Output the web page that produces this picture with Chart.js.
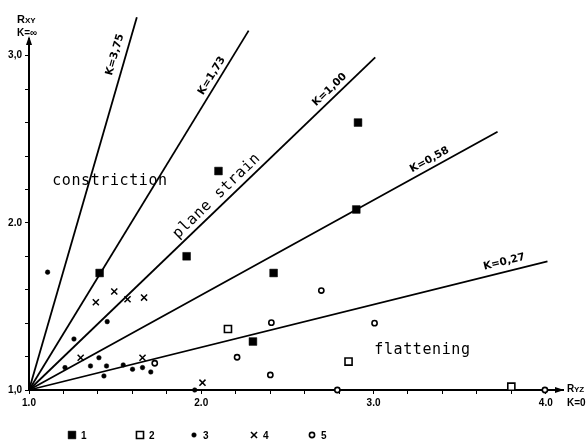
<!DOCTYPE html>
<html><head><meta charset="utf-8">
<script src="https://cdn.jsdelivr.net/npm/chart.js@4/dist/chart.umd.min.js"></script>
<style>html,body{margin:0;padding:0;background:#fff}#wrap{width:588px;height:443px}</style>
</head><body><div id="wrap"><canvas id="c" width="588" height="443"></canvas></div>
<script>
// ---- data ----
const seriesNames = ['1', '2', '3', '4', '5'];
const s1X = [1.41, 1.915, 2.10, 2.91, 2.90, 2.42, 2.30];
const s1Y = [1.70, 1.80, 2.31, 2.60, 2.08, 1.70, 1.29];
const s2X = [2.155, 2.855, 3.80];
const s2Y = [1.365, 1.17, 1.02];
const s3X = [1.108, 1.261, 1.454, 1.209, 1.406, 1.357, 1.45, 1.435, 1.547, 1.601, 1.659, 1.707, 1.962];
const s3Y = [1.705, 1.305, 1.409, 1.134, 1.193, 1.144, 1.144, 1.084, 1.15, 1.124, 1.134, 1.108, 1.0];
const s4X = [1.388, 1.495, 1.572, 1.668, 1.30, 1.659, 2.007];
const s4Y = [1.525, 1.589, 1.543, 1.553, 1.193, 1.193, 1.044];
const s5X = [1.730, 2.208, 2.407, 2.401, 2.697, 3.006, 2.79, 3.995];
const s5Y = [1.16, 1.196, 1.403, 1.09, 1.595, 1.40, 1.0, 1.0];

const kLabels = ['K=3,75', 'K=1,73', 'K=1,00', 'K=0,58', 'K=0,27'];
const kStartX = [1, 1, 1, 1, 1];
const kStartY = [1, 1, 1, 1, 1];
const kEndX = [1.626, 2.275, 3.01, 3.72, 4.01];
const kEndY = [3.23, 3.15, 2.99, 2.545, 1.77];
const kLabelX = [1.499, 2.061, 2.745, 3.325, 3.759];
const kLabelY = [3.006, 2.880, 2.796, 2.377, 1.766];

const fieldNames = ['constriction', 'plane strain', 'flattening'];
const fieldX = [1.47, 2.09, 3.284];
const fieldY = [2.25, 2.16, 1.24];

const xTickLabels = {1: '1.0', 2: '2.0', 3: '3.0', 4: '4.0'};
const yTickLabels = {1: '1,0', 2: '2.0', 3: '3,0'};

// ---- build datasets ----
const pts = (xs, ys) => xs.map((x, i) => ({x, y: ys[i]}));
const pointStyles = [
  {pointStyle: 'rect', pointRadius: 5.5, backgroundColor: '#000', borderColor: '#000', pointBorderWidth: 0.5},
  {pointStyle: 'rect', pointRadius: 5, backgroundColor: '#fff', borderColor: '#000', pointBorderWidth: 1.6},
  {pointStyle: 'circle', pointRadius: 2.3, backgroundColor: '#000', borderColor: '#000', pointBorderWidth: 0.5},
  {pointStyle: 'crossRot', pointRadius: 4.3, backgroundColor: '#000', borderColor: '#000', pointBorderWidth: 1.5},
  {pointStyle: 'circle', pointRadius: 2.6, backgroundColor: '#fff', borderColor: '#000', pointBorderWidth: 1.6}
];
const seriesData = [pts(s1X, s1Y), pts(s2X, s2Y), pts(s3X, s3Y), pts(s4X, s4Y), pts(s5X, s5Y)];
const datasets = [];
seriesNames.forEach((name, i) => {
  datasets.push(Object.assign({label: name, data: seriesData[i], showLine: false, clip: false, order: 0, isSeries: true}, pointStyles[i]));
});
kLabels.forEach((lab, i) => {
  datasets.push({label: lab, data: [{x: kStartX[i], y: kStartY[i]}, {x: kEndX[i], y: kEndY[i]}],
    showLine: true, borderColor: '#000', borderWidth: 1.8, pointRadius: 0, clip: false, order: 1, isKLine: true, kIndex: i});
});

const tickFont = {family: 'Liberation Sans', size: 10, weight: 'bold'};

const annot = {
  id: 'annot',
  afterDraw(chart) {
    const {ctx, chartArea: ca, scales: {x, y}} = chart;
    ctx.save();
    ctx.fillStyle = '#000';
    ctx.strokeStyle = '#000';
    // arrow heads
    ctx.beginPath();
    ctx.moveTo(ca.left, ca.top - 3);
    ctx.lineTo(ca.left - 3, ca.top + 6);
    ctx.lineTo(ca.left + 3, ca.top + 6);
    ctx.closePath(); ctx.fill();
    ctx.beginPath();
    ctx.moveTo(ca.right + 1, ca.bottom);
    ctx.lineTo(ca.right - 8, ca.bottom - 3);
    ctx.lineTo(ca.right - 8, ca.bottom + 3);
    ctx.closePath(); ctx.fill();

    // axis titles
    ctx.textBaseline = 'alphabetic';
    ctx.textAlign = 'left';
    ctx.font = 'bold 11px "Liberation Sans"';
    ctx.fillText('R', ca.left - 12, ca.top - 16);
    ctx.font = 'bold 8px "Liberation Sans"';
    ctx.fillText('XY', ca.left - 4, ca.top - 16);
    ctx.font = 'bold 10px "Liberation Sans"';
    ctx.fillText('K=∞', ca.left - 12, ca.top - 3);
    ctx.font = 'bold 10px "Liberation Sans"';
    ctx.fillText('R', ca.right + 4, ca.bottom + 2);
    ctx.font = 'bold 8px "Liberation Sans"';
    ctx.fillText('YZ', ca.right + 11, ca.bottom + 2);
    ctx.font = 'bold 10px "Liberation Sans"';
    ctx.fillText('K=0', ca.right + 4, ca.bottom + 16);

    // K labels rotated along their lines
    ctx.textAlign = 'center';
    ctx.textBaseline = 'middle';
    ctx.font = 'bold 10.5px "DejaVu Sans"';
    kLabels.forEach((lab, i) => {
      const x0 = x.getPixelForValue(kStartX[i]), y0 = y.getPixelForValue(kStartY[i]);
      const x1 = x.getPixelForValue(kEndX[i]), y1 = y.getPixelForValue(kEndY[i]);
      const ang = Math.atan2(y1 - y0, x1 - x0);
      ctx.save();
      ctx.translate(x.getPixelForValue(kLabelX[i]), y.getPixelForValue(kLabelY[i]));
      ctx.rotate(ang);
      ctx.fillText(lab, 0, 0);
      ctx.restore();
    });

    // field labels
    ctx.font = '15px "DejaVu Sans Mono"';
    try { ctx.letterSpacing = '0.6px'; } catch (e) {}
    fieldNames.forEach((lab, i) => {
      ctx.save();
      ctx.translate(x.getPixelForValue(fieldX[i]), y.getPixelForValue(fieldY[i]));
      if (i === 1) ctx.rotate(-44 * Math.PI / 180);
      ctx.fillText(lab, 0, 0);
      ctx.restore();
    });
    try { ctx.letterSpacing = '0px'; } catch (e) {}

    // legend row
    const legendMarkX = [72, 140, 194, 254, 312];
    const legendY = 435;
    ctx.textAlign = 'left';
    ctx.font = 'bold 10px "Liberation Sans"';
    chart.data.datasets.filter(d => d.isSeries).forEach((d, i) => {
      const mx = legendMarkX[i];
      ctx.save();
      ctx.fillStyle = d.backgroundColor;
      ctx.strokeStyle = d.borderColor;
      ctx.lineWidth = d.pointBorderWidth;
      const opts = {pointStyle: d.pointStyle, radius: d.pointRadius, rotation: 0, borderWidth: d.pointBorderWidth};
      Chart.helpers.drawPoint(ctx, opts, mx, legendY);
      ctx.restore();
      ctx.fillStyle = '#000';
      ctx.fillText(d.label, mx + 9, legendY + 1);
    });
    ctx.restore();
  }
};

new Chart(document.getElementById('c'), {
  type: 'scatter',
  data: {datasets},
  options: {
    responsive: false,
    devicePixelRatio: 1,
    animation: false,
    events: [],
    layout: {padding: {left: 0, top: 39, right: 25, bottom: 0}},
    plugins: {legend: {display: false}, tooltip: {enabled: false}},
    scales: {
      x: {
        type: 'linear', min: 1, max: 4.1,
        afterFit: s => { s.height = 53; },
        grid: {drawOnChartArea: false, drawTicks: true, tickLength: 4, color: '#000', lineWidth: 1},
        border: {display: true, color: '#000', width: 2},
        ticks: {stepSize: 0.2, includeBounds: false, autoSkip: false, maxRotation: 0, padding: 3, color: '#000', font: tickFont,
          callback: v => { const r = Math.round(v); return Math.abs(v - r) < 1e-6 && xTickLabels[r] ? xTickLabels[r] : ''; }}
      },
      y: {
        type: 'linear', min: 1, max: 3.1,
        afterFit: s => { s.width = 29; },
        grid: {drawOnChartArea: false, drawTicks: true, tickLength: 4, color: '#000', lineWidth: 1},
        border: {display: true, color: '#000', width: 2},
        ticks: {stepSize: 0.2, includeBounds: false, autoSkip: false, padding: 3, color: '#000', font: tickFont,
          callback: v => { const r = Math.round(v); return Math.abs(v - r) < 1e-6 && yTickLabels[r] ? yTickLabels[r] : ''; }}
      }
    }
  },
  plugins: [annot]
});
</script>
</body></html>
